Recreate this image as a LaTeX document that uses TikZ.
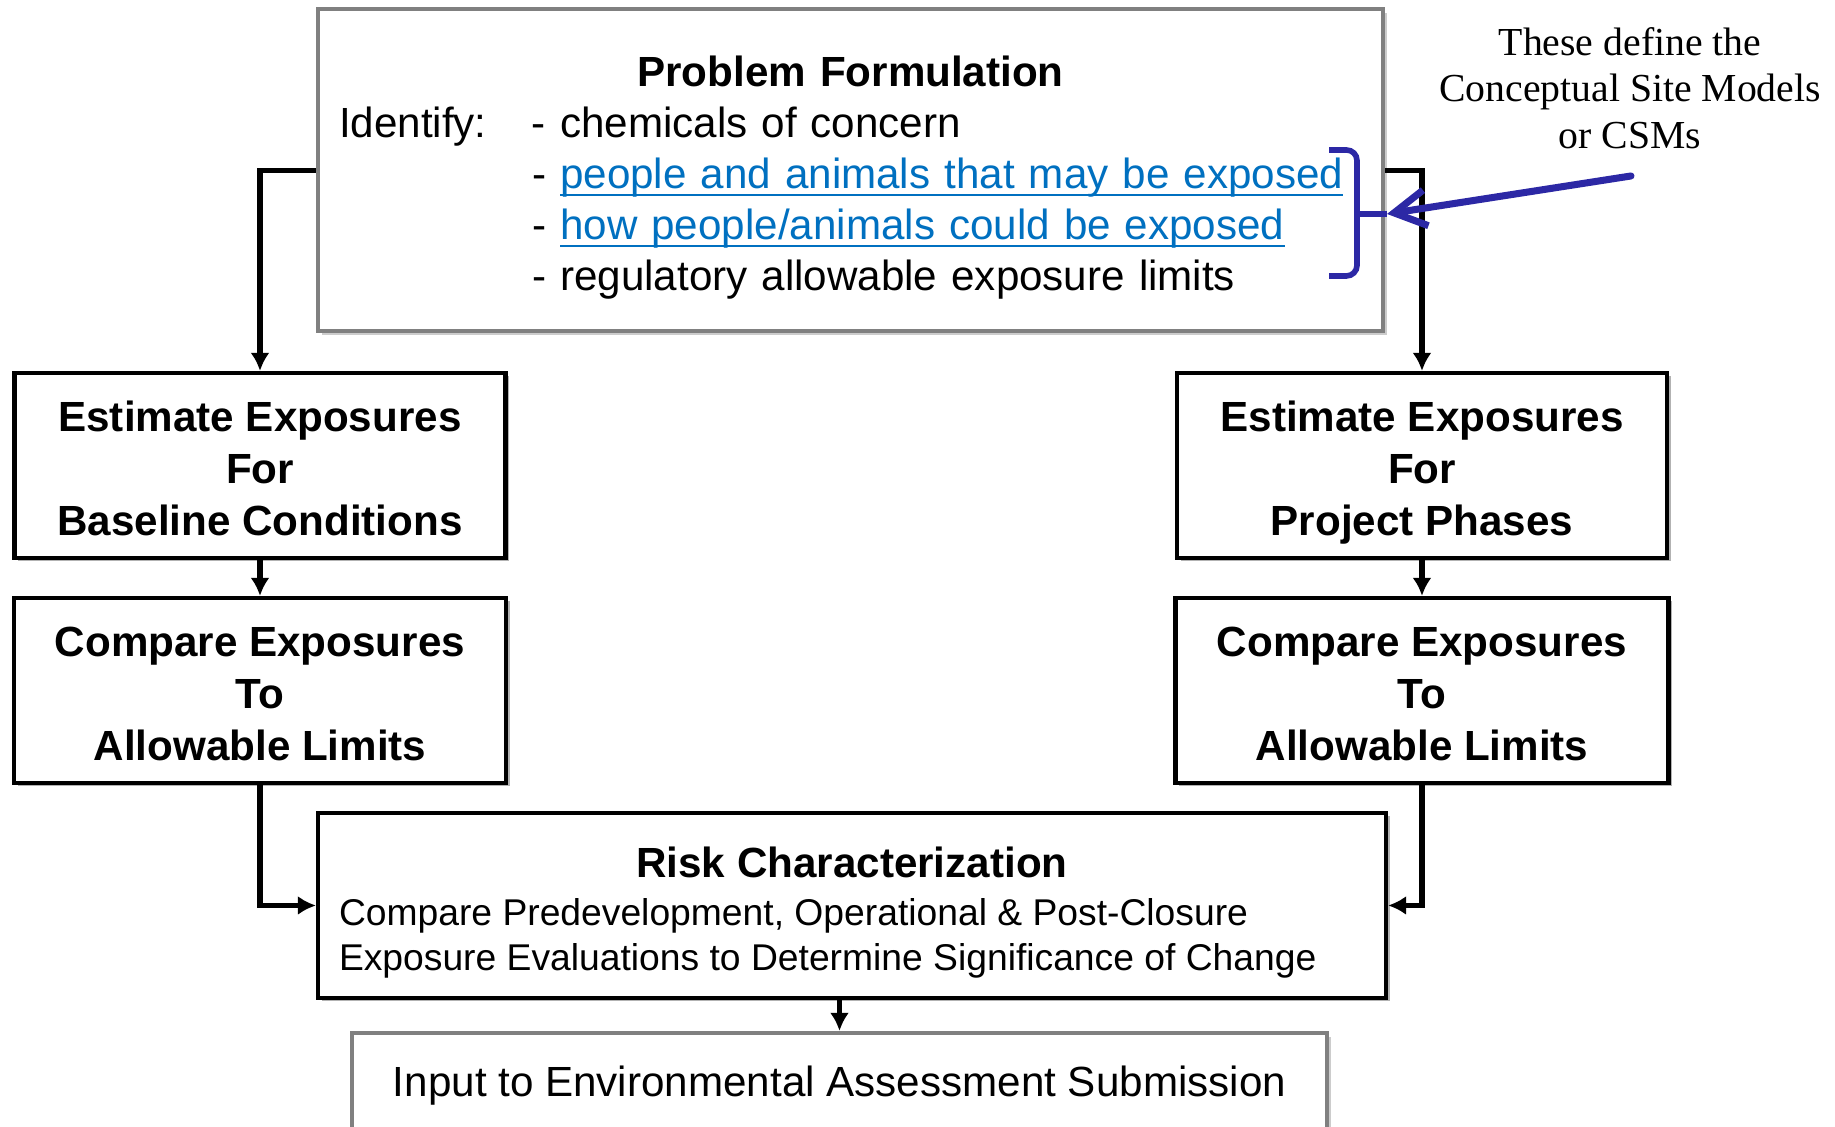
\documentclass[tikz,border=0pt]{standalone}
\usepackage{fontspec}
\setmainfont{Liberation Sans}
\newfontfamily\notefont{Liberation Serif}
\usetikzlibrary{arrows.meta, shadows}
\definecolor{linkblue}{RGB}{0,112,192}
\definecolor{markblue}{RGB}{44,40,165}
\newcommand{\csmlink}[1]{\textcolor{linkblue}{\setbox0\hbox{#1}\rlap{\rule[-2.2pt]{\wd0}{0.65pt}}\box0}}

\begin{document}
\begin{tikzpicture}[>={Latex[length=1.8mm,width=1.9mm]},line width=1.5pt,
  mainbox/.style={draw=black, line width=1.2pt, fill=white, minimum height=1.85cm,
    align=center, text depth=0pt, font=\bfseries\fontsize{12}{14.8}\selectfont,
    drop shadow={shadow xshift=0.035cm, shadow yshift=-0.035cm, fill=black!30, opacity=1}},
  greybox/.style={draw=black!50, line width=1.2pt, fill=white,
    font=\fontsize{12}{14.5}\selectfont,
    drop shadow={shadow xshift=0.04cm, shadow yshift=-0.04cm, fill=black!20, opacity=1}},
  bracket/.style={draw=markblue, line width=1.6pt, rounded corners=3pt},
  notetext/.style={align=center, font=\notefont\fontsize{11.3}{13.3}\selectfont}]

\useasboundingbox (0,0) rectangle (18.35,11.27);

% define the boxes
  \node[greybox, minimum width=10.65cm, minimum height=3.22cm, text width=10.23cm,
    inner xsep=0.21cm]   (prob) at (8.505,9.568)
{{\centering\rule{0pt}{0.52cm}\textbf{Problem Formulation}\par}
\noindent\begin{tabular}[t]{@{}p{1.93cm}@{}l@{}}
Identify: & - chemicals of concern\\
 & - \csmlink{people and animals that may be exposed}\\
 & - \csmlink{how people/animals could be exposed}\\
 & - regulatory allowable exposure limits
\end{tabular}};

  \node[mainbox, minimum width=4.91cm]   (estL) at (2.60,6.615)
{\rule{0pt}{0.36cm}Estimate Exposures\\For\\Baseline Conditions};
  \node[mainbox, minimum width=4.92cm]   (cmpL) at (2.60,4.365)
{\rule{0pt}{0.36cm}Compare Exposures\\To\\Allowable Limits};

  \node[mainbox, minimum width=4.90cm]   (estR) at (14.22,6.615)
{\rule{0pt}{0.36cm}Estimate Exposures\\For\\Project Phases};
  \node[mainbox, minimum width=4.93cm]   (cmpR) at (14.22,4.365)
{\rule{0pt}{0.36cm}Compare Exposures\\To\\Allowable Limits};

  \node[mainbox, minimum width=10.68cm, text width=10.26cm, inner xsep=0.21cm,
    align=flush left, text depth=, font=\fontsize{12}{14.5}\selectfont]   (risk) at (8.52,2.215)
{{\centering\rule{0pt}{0.45cm}\textbf{Risk Characterization}\par}
\vspace{0.6pt}
{\fontsize{10.6}{13}\selectfont
Compare Predevelopment, Operational \& Post-Closure\par
Exposure Evaluations to Determine Significance of Change\par}};

  \node[greybox, minimum width=9.75cm, minimum height=1.06cm]   (input) at (8.395,0.41)
{Input to Environmental Assessment Submission};

% the note on the conceptual site models
  \node[notetext]   (csmnote) at (16.30,10.39)
{These define the\\Conceptual Site Models\\or CSMs};
  \coordinate (csmfoot) at (16.31,9.51);
  \coordinate (csmmid)  at (13.57,9.13);
  \coordinate (csmtip)  at (13.87,9.13);

% define the links
  \path[->] (prob.west) edge[to path={-| (\tikztotarget)}] (estL.north)
            (prob.east) edge[to path={-| (\tikztotarget)}] (estR.north)
            (estL.south) edge (cmpL.north)
            (estR.south) edge (cmpR.north)
            (cmpL.south) edge[to path={|- (\tikztotarget)}] (risk.west)
            (cmpR.south) edge[to path={|- (\tikztotarget)}] (risk.east)
            (risk.south -| input.north) edge (input.north);

% the blue bracket and pointer
  \draw[bracket] (13.29,9.77) -- (13.57,9.77) -- (13.57,8.51) -- (13.29,8.51);
  \draw[bracket, rounded corners=0pt] (csmmid) -- (csmtip);
  \draw[markblue, line width=2pt, line cap=round,
    -{Straight Barb[length=3.2mm,width=3.6mm]}] (csmfoot) -- (csmtip);

\end{tikzpicture}
\end{document}
